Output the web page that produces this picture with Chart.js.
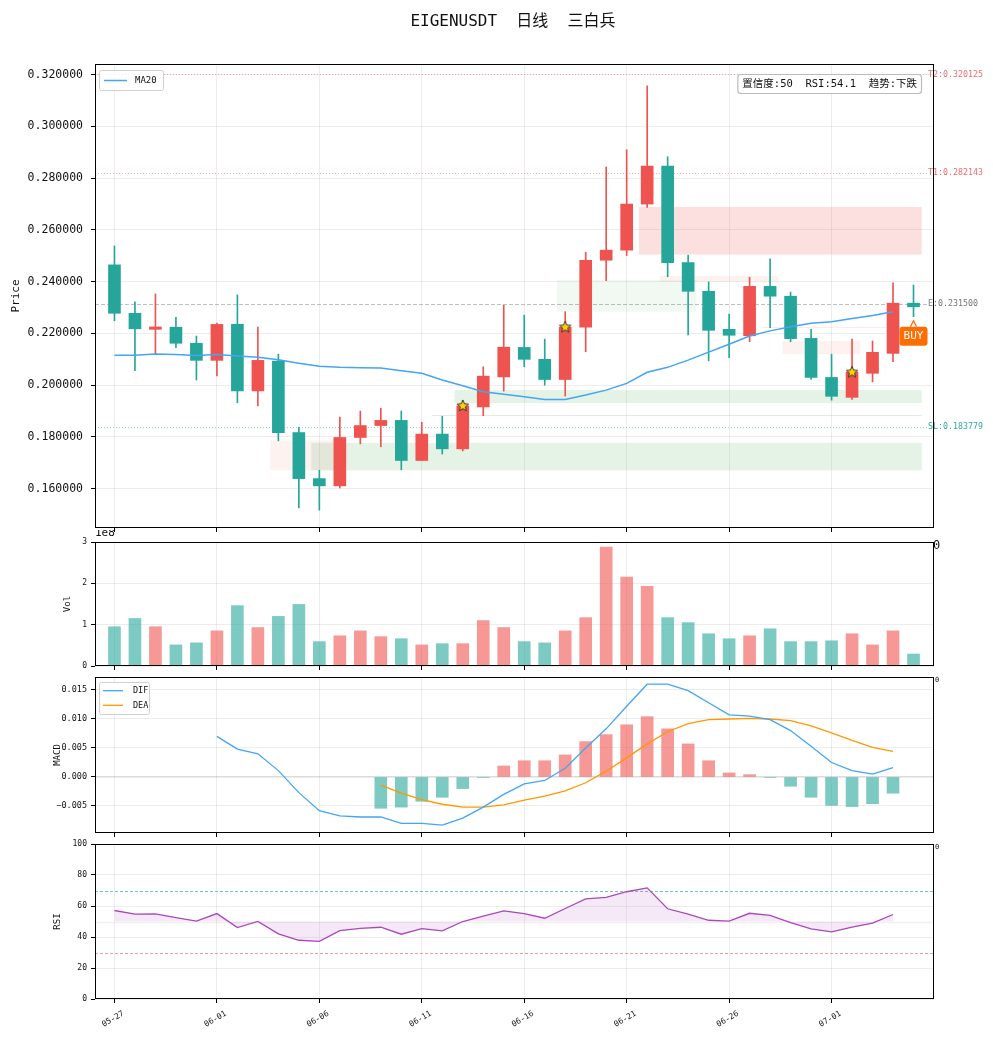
<!DOCTYPE html>
<html>
<head>
<meta charset="utf-8">
<script src="https://cdn.jsdelivr.net/npm/chart.js@4.4.1/dist/chart.umd.min.js"></script>
<style>
    html, body { margin: 0; padding: 0; background: #fff; }
    #wrap { position: relative; width: 993px; height: 1040px; overflow: hidden; }
    canvas { position: absolute; left: 0; }
</style>
</head>
<body>
<div id="wrap">
    <canvas id="c-price" width="993" height="548" style="top:0px"></canvas>
    <canvas id="c-vol" width="993" height="152" style="top:530px"></canvas>
    <canvas id="c-macd" width="993" height="182" style="top:666px"></canvas>
    <canvas id="c-rsi" width="993" height="207" style="top:833px"></canvas>
</div>
<script>
// ---- data ----
const dates = ['05-27','05-28','05-29','05-30','05-31',
    '06-01','06-02','06-03','06-04','06-05','06-06','06-07','06-08','06-09','06-10',
    '06-11','06-12','06-13','06-14','06-15','06-16','06-17','06-18','06-19','06-20',
    '06-21','06-22','06-23','06-24','06-25','06-26','06-27','06-28','06-29','06-30',
    '07-01','07-02','07-03','07-04','07-05'];

const open  = [0.2465,0.2278,0.2216,0.2224,0.2162,0.2096,0.2235,0.1978,0.2093,0.1817,
               0.1639,0.1611,0.1798,0.1844,0.1864,0.1709,0.1811,0.1754,0.1916,0.2032,
               0.2146,0.2100,0.2022,0.2224,0.2483,0.2522,0.2700,0.2847,0.2474,0.2363,
               0.2216,0.2191,0.2382,0.2344,0.2181,0.2030,0.1953,0.2046,0.2123,0.2317];
const close = [0.2278,0.2218,0.2225,0.2162,0.2096,0.2235,0.1978,0.2096,0.1817,0.1639,
               0.1611,0.1798,0.1844,0.1864,0.1709,0.1811,0.1754,0.1920,0.2035,0.2147,
               0.2100,0.2022,0.2224,0.2483,0.2522,0.2700,0.2847,0.2474,0.2363,0.2212,
               0.2193,0.2382,0.2344,0.2180,0.2030,0.1957,0.2050,0.2127,0.2317,0.2303];
const high  = [0.2538,0.2322,0.2353,0.2262,0.2190,0.2240,0.2349,0.2225,0.2120,0.1837,
               0.1671,0.1877,0.1900,0.1911,0.1900,0.1857,0.1880,0.1936,0.2071,0.2309,
               0.2271,0.2178,0.2284,0.2514,0.2843,0.2910,0.3157,0.2883,0.2503,0.2399,
               0.2275,0.2417,0.2488,0.2360,0.2216,0.2120,0.2178,0.2171,0.2396,0.2387];
const low   = [0.2249,0.2056,0.2120,0.2145,0.2020,0.2036,0.1932,0.1920,0.1785,0.1526,
               0.1517,0.1603,0.1773,0.1762,0.1673,0.1709,0.1734,0.1746,0.1882,0.1977,
               0.2071,0.2000,0.1958,0.2129,0.2404,0.2501,0.2687,0.2419,0.2194,0.2094,
               0.2106,0.2168,0.2222,0.2168,0.2022,0.1942,0.1945,0.2013,0.2091,0.2265];
const ma20  = [0.2116,0.2116,0.2121,0.2119,0.2115,0.2119,0.2113,0.2108,0.2098,0.2085,
               0.2073,0.2069,0.2067,0.2066,0.2056,0.2046,0.2020,0.1998,0.1975,0.1965,
               0.1955,0.1945,0.1945,0.1962,0.1981,0.2007,0.2050,0.2069,0.2097,0.2128,
               0.2158,0.2190,0.2210,0.2226,0.2239,0.2245,0.2258,0.2269,0.2284,null];

// volume in units of 1e8
const volume = [0.95,1.15,0.95,0.51,0.56,0.85,1.46,0.93,1.20,1.49,
                0.59,0.73,0.85,0.71,0.66,0.51,0.54,0.54,1.10,0.93,
                0.59,0.56,0.85,1.17,2.88,2.15,1.93,1.17,1.05,0.78,
                0.66,0.73,0.90,0.59,0.59,0.61,0.78,0.51,0.85,0.29];

const dif  = [null,null,null,null,null,0.0070,0.0048,0.0040,0.0011,-0.0027,
              -0.0058,-0.0067,-0.0069,-0.0069,-0.0080,-0.0080,-0.0083,-0.0071,-0.0052,-0.0030,
              -0.0012,-0.0006,0.0015,0.0050,0.0083,0.0122,0.0160,0.0160,0.0149,0.0128,
              0.0107,0.0105,0.0099,0.0080,0.0053,0.0025,0.0011,0.0005,0.0016,null];
const dea  = [null,null,null,null,null,null,null,null,null,null,
              null,null,null,-0.0014,-0.0028,-0.0039,-0.0047,-0.0052,-0.0052,-0.0048,
              -0.0040,-0.0033,-0.0024,-0.0010,0.0010,0.0033,0.0057,0.0078,0.0092,0.0099,
              0.0100,0.0101,0.0100,0.0097,0.0088,0.0076,0.0063,0.0051,0.0044,null];
const hist = [null,null,null,null,null,null,null,null,null,null,
              null,null,null,-0.0054,-0.0052,-0.0042,-0.0035,-0.0020,-0.0001,0.0019,
              0.0028,0.0028,0.0038,0.0061,0.0073,0.0090,0.0104,0.0083,0.0057,0.0028,
              0.0007,0.0004,-0.0001,-0.0016,-0.0035,-0.0049,-0.0051,-0.0046,-0.0028,null];

const rsi  = [57.1,54.7,54.9,52.5,50.2,55.1,46.1,50.0,42.0,37.9,
              37.2,44.1,45.6,46.3,41.8,45.4,43.9,50.0,53.4,56.9,
              55.1,52.1,58.4,64.6,65.5,69.2,71.7,58.2,54.7,50.8,
              50.2,55.3,54.0,49.3,45.2,43.3,46.3,48.9,54.5,null];

// signal stars (index of candle)
const signalIdx = [17, 22, 36];

// key levels
const levelName  = ['T2', 'T1', 'E', 'SL'];
const levelValue = [0.320125, 0.282143, 0.231500, 0.183779];

// zones: from/to in candle index units, low/high in price
const zoneFrom = [7.6, 9.6, 16.6, 21.6, 25.6, 26.6, 32.6, 15.5, 31.6];
const zoneTo   = [10.7, 39.4, 39.4, 28.4, 39.4, 32.4, 36.4, 39.4, 37.7];
const zoneLow  = [0.1671, 0.1671, 0.1931, 0.2284, 0.2505, 0.2400, 0.2120, 0.1883, 0.2222];
const zoneHigh = [0.1787, 0.1777, 0.1981, 0.2407, 0.2689, 0.2422, 0.2171, 0.1885, 0.2225];
const zoneKind = ['resWeak', 'sup', 'sup', 'supWeak', 'res', 'resWeak', 'resWeak', 'line', 'resLine'];

const priceTicks = [0.16, 0.18, 0.20, 0.22, 0.24, 0.26, 0.28, 0.30, 0.32];
const volTicks   = [0, 1, 2, 3];
const macdTicks  = [-0.005, 0, 0.005, 0.010, 0.015];
const rsiTicks   = [0, 20, 40, 60, 80, 100];
const xTickIdx   = [0, 5, 10, 15, 20, 25, 30, 35];

const infoText = '置信度:50  RSI:54.1  趋势:下跌';
const titleText = 'EIGENUSDT  日线  三白兵';

// ---- styles ----
const FONT = "'DejaVu Sans Mono', 'Noto Sans CJK SC', monospace";
Chart.defaults.font.family = FONT;
Chart.defaults.color = '#111';
Chart.defaults.animation = false;

const UP = '#ef5350', DOWN = '#26a69a';
const UP_A = 'rgba(239,83,80,0.6)', DOWN_A = 'rgba(38,166,154,0.6)';
const BLUE = '#42a5f5', ORANGE = '#ff9800', PURPLE = '#ab47bc';
const GRID = 'rgba(0,0,0,0.07)';
const zoneColor = {
    sup: 'rgba(76,175,80,0.15)', supWeak: 'rgba(76,175,80,0.07)',
    res: 'rgba(239,83,80,0.18)', resWeak: 'rgba(239,83,80,0.08)',
    line: 'rgba(0,0,0,0.09)', resLine: 'rgba(239,83,80,0.12)'
};
const levelStyle = {
    T2: { color: 'rgba(239,83,80,0.55)', dash: [1, 2], text: 'rgba(239,83,80,0.85)' },
    T1: { color: 'rgba(239,83,80,0.55)', dash: [1, 2], text: 'rgba(239,83,80,0.85)' },
    E:  { color: 'rgba(120,120,120,0.6)', dash: [4, 2], text: '#777' },
    SL: { color: 'rgba(38,166,154,0.6)', dash: [1, 2], text: 'rgba(38,166,154,0.95)' }
};

const X_MIN = -0.95, X_MAX = 40.0;
const pts = arr => arr.map((v, i) => ({ x: i, y: v })).filter(p => p.y !== null);
const isUp = open.map((o, i) => close[i] >= o);

function xScale(showLabels, height) {
    return {
        type: 'linear', min: X_MIN, max: X_MAX, offset: false,
        afterBuildTicks: s => { s.ticks = xTickIdx.map(v => ({ value: v })); },
        afterFit: s => { s.height = height; },
        grid: { color: GRID, tickColor: '#000', tickLength: 4, offset: false },
        border: { display: false },
        ticks: showLabels
            ? { display: true, autoSkip: false, minRotation: 30, maxRotation: 30, labelOffset: 9,
                padding: 6, font: { size: 8 }, color: '#111', callback: v => dates[v] }
            : { display: false }
    };
}

function yScale(min, max, ticks, fmt, size, pad) {
    return {
        min, max,
        afterBuildTicks: s => { s.ticks = ticks.map(v => ({ value: v })); },
        afterFit: s => { s.width = 95; },
        grid: { color: GRID, tickColor: '#000', tickLength: 4 },
        border: { display: false },
        ticks: { font: { size }, color: '#111', padding: pad, callback: fmt }
    };
}

const framePlugin = {
    id: 'frame',
    afterDraw(chart) {
        const { ctx, chartArea: a } = chart;
        ctx.save();
        ctx.strokeStyle = '#000';
        ctx.lineWidth = 1;
        ctx.strokeRect(Math.round(a.left) + 0.5, Math.round(a.top) + 0.5,
            Math.round(a.right - a.left) - 1, Math.round(a.bottom - a.top) - 1);
        ctx.restore();
    }
};

function vTitle(ctx, text, x, y, size) {
    ctx.save();
    ctx.translate(x, y);
    ctx.rotate(-Math.PI / 2);
    ctx.font = `${size}px ${FONT}`;
    ctx.fillStyle = '#111';
    ctx.textAlign = 'center';
    ctx.textBaseline = 'middle';
    ctx.fillText(text, 0, 0);
    ctx.restore();
}

function legendBox(ctx, x, y, w, h) {
    ctx.save();
    ctx.beginPath();
    ctx.roundRect(x + 0.5, y + 0.5, w, h, 2);
    ctx.fillStyle = 'rgba(255,255,255,0.85)';
    ctx.fill();
    ctx.strokeStyle = '#d0d0d0';
    ctx.stroke();
    ctx.restore();
}

function makeStar(size) {
    const c = document.createElement('canvas');
    c.width = c.height = size;
    const g = c.getContext('2d');
    const cx = size / 2, cy = size / 2, R = size / 2 - 1, r = R * 0.45;
    g.beginPath();
    for (let k = 0; k < 10; k++) {
        const ang = -Math.PI / 2 + k * Math.PI / 5;
        const rr = k % 2 ? r : R;
        g.lineTo(cx + rr * Math.cos(ang), cy + rr * Math.sin(ang));
    }
    g.closePath();
    g.fillStyle = '#ffd600';
    g.fill();
    g.strokeStyle = '#333';
    g.lineWidth = 1;
    g.stroke();
    return c;
}

// ---- price panel ----
const pricePlugin = {
    id: 'priceExtras',
    beforeDatasetsDraw(chart) {
        const { ctx, chartArea: a, scales: { x, y } } = chart;
        ctx.save();
        ctx.beginPath();
        ctx.rect(a.left, a.top, a.right - a.left, a.bottom - a.top);
        ctx.clip();
        zoneFrom.forEach((f, i) => {
            const x0 = x.getPixelForValue(f), x1 = x.getPixelForValue(zoneTo[i]);
            const y0 = y.getPixelForValue(zoneHigh[i]), y1 = y.getPixelForValue(zoneLow[i]);
            ctx.fillStyle = zoneColor[zoneKind[i]];
            ctx.fillRect(x0, y0, x1 - x0, Math.max(1, y1 - y0));
        });
        ctx.restore();

        ctx.save();
        levelName.forEach((n, i) => {
            const st = levelStyle[n];
            const py = Math.round(y.getPixelForValue(levelValue[i])) + 0.5;
            ctx.strokeStyle = st.color;
            ctx.lineWidth = 0.8;
            ctx.setLineDash(st.dash);
            ctx.beginPath();
            ctx.moveTo(a.left, py);
            ctx.lineTo(a.right - 7, py);
            ctx.stroke();
        });
        ctx.restore();
    },
    afterDraw(chart) {
        const { ctx, chartArea: a, scales: { x, y } } = chart;
        ctx.save();
        // level labels
        ctx.font = `8.3px ${FONT}`;
        ctx.textBaseline = 'middle';
        ctx.textAlign = 'left';
        levelName.forEach((n, i) => {
            ctx.fillStyle = levelStyle[n].text;
            ctx.fillText(`${n}:${levelValue[i].toFixed(6)}`, a.right - 6, y.getPixelForValue(levelValue[i]));
        });

        // title
        ctx.font = `16px ${FONT}`;
        ctx.fillStyle = '#111';
        ctx.textAlign = 'center';
        ctx.fillText(titleText, 513, 22);

        // MA20 legend
        legendBox(ctx, a.left + 4, a.top + 6, 64, 20);
        ctx.strokeStyle = BLUE;
        ctx.lineWidth = 1.5;
        ctx.beginPath();
        ctx.moveTo(a.left + 9, a.top + 16.5);
        ctx.lineTo(a.left + 32, a.top + 16.5);
        ctx.stroke();
        ctx.font = `9px ${FONT}`;
        ctx.fillStyle = '#111';
        ctx.textAlign = 'left';
        ctx.fillText('MA20', a.left + 40, a.top + 17);

        // info box
        ctx.font = `10.5px ${FONT}`;
        const tw = ctx.measureText(infoText).width;
        const bx1 = a.right - 13, bx0 = bx1 - tw - 9;
        ctx.save();
        ctx.beginPath();
        ctx.roundRect(bx0 + 0.5, a.top + 10.5, bx1 - bx0, 19, 3);
        ctx.fillStyle = 'rgba(255,255,255,0.9)';
        ctx.fill();
        ctx.strokeStyle = '#bbb';
        ctx.lineWidth = 1.2;
        ctx.stroke();
        ctx.restore();
        ctx.fillStyle = '#111';
        ctx.fillText(infoText, bx0 + 5, a.top + 20.5);

        // BUY marker under the last candle
        const last = open.length - 1;
        const bxc = x.getPixelForValue(last);
        const tip = y.getPixelForValue(low[last]) + 4;
        ctx.strokeStyle = '#ff6d00';
        ctx.lineWidth = 1.2;
        ctx.beginPath();
        ctx.moveTo(bxc - 3, tip + 6);
        ctx.lineTo(bxc, tip);
        ctx.lineTo(bxc + 3, tip + 6);
        ctx.stroke();
        ctx.beginPath();
        ctx.roundRect(bxc - 14, tip + 6, 28, 19, 3);
        ctx.fillStyle = '#ff6d00';
        ctx.fill();
        ctx.font = `11px ${FONT}`;
        ctx.fillStyle = '#fff';
        ctx.textAlign = 'center';
        ctx.fillText('BUY', bxc, tip + 16);
        ctx.restore();

        vTitle(ctx, 'Price', 16, (a.top + a.bottom) / 2, 11);
    }
};

new Chart(document.getElementById('c-price'), {
    type: 'bar',
    data: {
        datasets: [
            { type: 'line', data: pts(ma20), borderColor: BLUE, borderWidth: 1.5, pointRadius: 0, order: 2 },
            { type: 'line', data: signalIdx.map(i => ({ x: i, y: close[i] })), showLine: false,
              pointStyle: makeStar(14), pointRadius: 7, order: 1 },
            { data: open.map((o, i) => ({ x: i, y: [o, close[i]] })),
              backgroundColor: isUp.map(u => u ? UP : DOWN), barThickness: 12, grouped: false, order: 3 },
            { data: low.map((l, i) => ({ x: i, y: [l, high[i]] })),
              backgroundColor: isUp.map(u => u ? UP : DOWN), barThickness: 1, grouped: false, order: 4 }
        ]
    },
    options: {
        responsive: false,
        layout: { padding: { top: 64, right: 59, left: 0, bottom: 0 } },
        plugins: { legend: { display: false }, tooltip: { enabled: false } },
        scales: {
            x: xScale(false, 20),
            y: yScale(0.14481, 0.32414, priceTicks, v => v.toFixed(6), 11.5, 8)
        }
    },
    plugins: [pricePlugin, framePlugin]
});

// ---- volume panel ----
const volPlugin = {
    id: 'volExtras',
    afterDraw(chart) {
        const { ctx, chartArea: a } = chart;
        ctx.save();
        ctx.font = `11px ${FONT}`;
        ctx.fillStyle = '#111';
        ctx.textBaseline = 'middle';
        ctx.fillText('1e8', a.left, a.top - 9);
        ctx.font = `12px ${FONT}`;
        ctx.fillText('0', a.right - 1, a.top + 4);
        ctx.restore();
        vTitle(ctx, 'Vol', 68, (a.top + a.bottom) / 2, 9);
    }
};

new Chart(document.getElementById('c-vol'), {
    type: 'bar',
    data: {
        datasets: [{
            data: volume.map((v, i) => ({ x: i, y: v * 1e8 })),
            backgroundColor: isUp.map(u => u ? UP_A : DOWN_A), barThickness: 12, grouped: false
        }]
    },
    options: {
        responsive: false,
        layout: { padding: { top: 12, right: 59, left: 0, bottom: 0 } },
        plugins: { legend: { display: false }, tooltip: { enabled: false } },
        scales: {
            x: xScale(false, 16),
            y: yScale(0, 3.0e8, volTicks.map(v => v * 1e8), v => String(Math.round(v / 1e8)), 8, 4)
        }
    },
    plugins: [volPlugin, framePlugin]
});

// ---- MACD panel ----
const macdPlugin = {
    id: 'macdExtras',
    beforeDatasetsDraw(chart) {
        const { ctx, chartArea: a, scales: { y } } = chart;
        ctx.save();
        ctx.strokeStyle = 'rgba(0,0,0,0.1)';
        ctx.lineWidth = 1.5;
        const py = y.getPixelForValue(0);
        ctx.beginPath();
        ctx.moveTo(a.left, py);
        ctx.lineTo(a.right, py);
        ctx.stroke();
        ctx.restore();
    },
    afterDraw(chart) {
        const { ctx, chartArea: a } = chart;
        ctx.save();
        legendBox(ctx, a.left + 4, a.top + 5, 50, 32);
        [[BLUE, 'DIF', 13.7], [ORANGE, 'DEA', 28.3]].forEach(([c, t, dy]) => {
            ctx.strokeStyle = c;
            ctx.lineWidth = 1.3;
            ctx.beginPath();
            ctx.moveTo(a.left + 8, a.top + dy);
            ctx.lineTo(a.left + 28, a.top + dy);
            ctx.stroke();
            ctx.font = `8.5px ${FONT}`;
            ctx.fillStyle = '#111';
            ctx.textBaseline = 'middle';
            ctx.fillText(t, a.left + 38, a.top + dy + 0.5);
        });
        ctx.font = `7px ${FONT}`;
        ctx.fillText('0', a.right + 1, a.top + 3);
        ctx.restore();
        vTitle(ctx, 'MACD', 58, (a.top + a.bottom) / 2, 9);
    }
};

new Chart(document.getElementById('c-macd'), {
    type: 'bar',
    data: {
        datasets: [
            { type: 'line', data: pts(dif), borderColor: BLUE, borderWidth: 1.3, pointRadius: 0, order: 1 },
            { type: 'line', data: pts(dea), borderColor: ORANGE, borderWidth: 1.3, pointRadius: 0, order: 1 },
            { data: pts(hist), backgroundColor: pts(hist).map(p => p.y >= 0 ? UP_A : DOWN_A),
              barThickness: 12, grouped: false, order: 2 }
        ]
    },
    options: {
        responsive: false,
        layout: { padding: { top: 11, right: 59, left: 0, bottom: 0 } },
        plugins: { legend: { display: false }, tooltip: { enabled: false } },
        scales: {
            x: xScale(false, 15),
            y: yScale(-0.00966, 0.01724, macdTicks,
                v => (v < 0 ? '\u2212' : '') + Math.abs(v).toFixed(3), 8.5, 4)
        }
    },
    plugins: [macdPlugin, framePlugin]
});

// ---- RSI panel ----
const rsiPlugin = {
    id: 'rsiExtras',
    beforeDatasetsDraw(chart) {
        const { ctx, chartArea: a, scales: { y } } = chart;
        ctx.save();
        const hline = (v, color, dash, w) => {
            const py = Math.round(y.getPixelForValue(v)) + 0.5;
            ctx.strokeStyle = color;
            ctx.lineWidth = w;
            ctx.setLineDash(dash);
            ctx.beginPath();
            ctx.moveTo(a.left, py);
            ctx.lineTo(a.right, py);
            ctx.stroke();
        };
        hline(70, 'rgba(38,166,154,0.65)', [3, 2], 1);
        hline(30, 'rgba(239,83,80,0.6)', [3, 2], 1);
        hline(50, 'rgba(0,0,0,0.06)', [], 1.5);
        ctx.restore();
    },
    afterDraw(chart) {
        const { ctx, chartArea: a } = chart;
        ctx.save();
        ctx.font = `7px ${FONT}`;
        ctx.fillStyle = '#111';
        ctx.textBaseline = 'middle';
        ctx.fillText('0', a.right + 1, a.top + 3);
        ctx.restore();
        vTitle(ctx, 'RSI', 58, (a.top + a.bottom) / 2, 9);
    }
};

new Chart(document.getElementById('c-rsi'), {
    type: 'line',
    data: {
        datasets: [{
            data: pts(rsi), borderColor: PURPLE, borderWidth: 1.3, pointRadius: 0,
            fill: { value: 50 }, backgroundColor: 'rgba(171,71,188,0.12)'
        }]
    },
    options: {
        responsive: false,
        layout: { padding: { top: 11, right: 59, left: 0, bottom: 0 } },
        plugins: { legend: { display: false }, tooltip: { enabled: false } },
        scales: {
            x: xScale(true, 41),
            y: yScale(0, 100, rsiTicks, v => String(v), 8, 4)
        }
    },
    plugins: [rsiPlugin, framePlugin]
});
</script>
</body>
</html>
